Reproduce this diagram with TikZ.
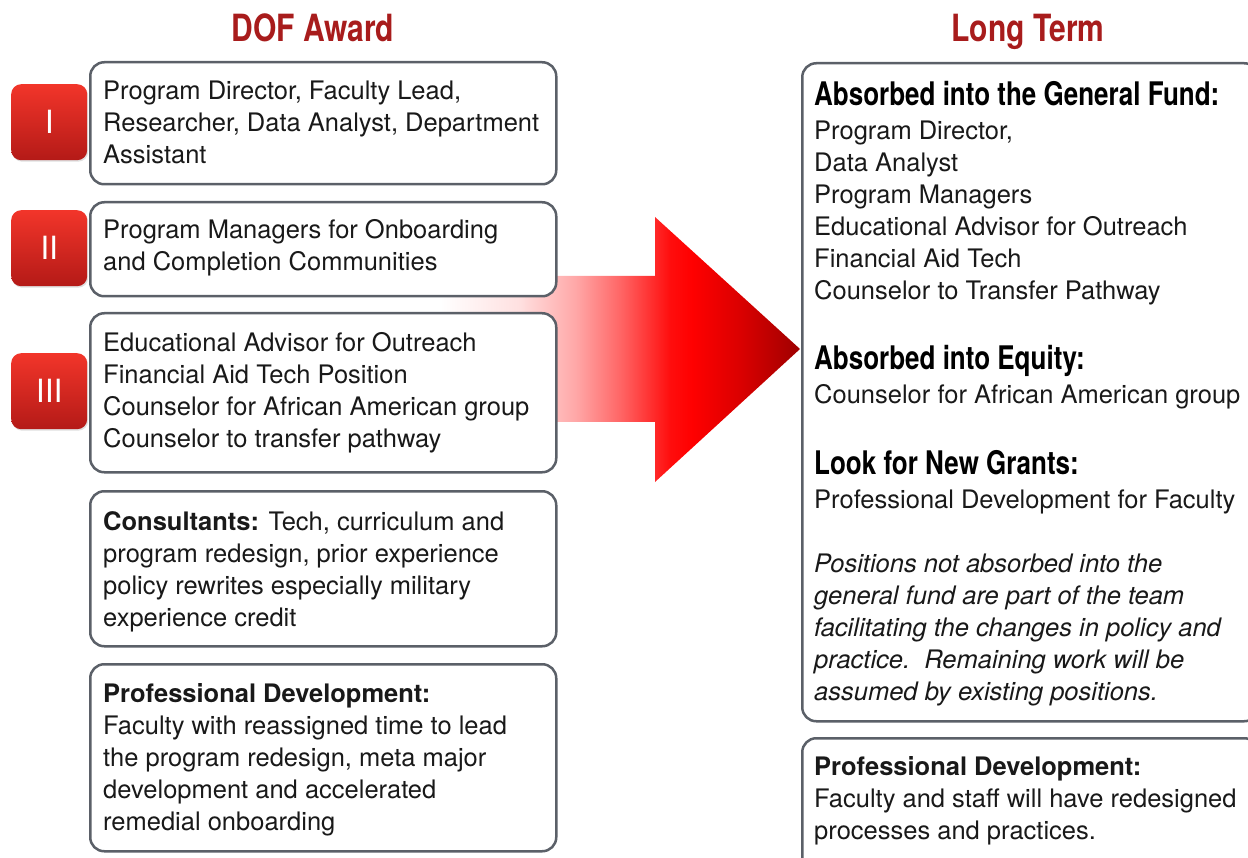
\documentclass[tikz,border=0pt]{standalone}
\usepackage{fontspec}
\setmainfont{TeX Gyre Heros}
\newfontfamily\cond{TeX Gyre Heros}[FakeStretch=0.8]
\usetikzlibrary{shadows}
\definecolor{headred}{HTML}{A81C1C}
\definecolor{boxgray}{HTML}{5B6068}
\definecolor{badgetop}{HTML}{F2352A}
\definecolor{badgebot}{HTML}{B41A17}
\pgfdeclarehorizontalshading{arrowshade}{100bp}{color(0bp)=(white); color(25bp)=(white); color(36bp)=(red!12!white); color(44bp)=(red!35!white); color(50bp)=(red!60!white); color(57bp)=(red!95!white); color(60bp)=(red); color(67bp)=(red!85!black); color(75bp)=(red!62!black); color(100bp)=(red!62!black)}
\tikzset{
  box/.style={draw=boxgray, line width=2.5pt, rounded corners=14pt, fill=white, anchor=north west, inner sep=0pt},
  badge/.style={rounded corners=10pt, top color=badgetop, bottom color=badgebot, anchor=north west, minimum width=76pt, minimum height=76pt, inner sep=0pt, text=white, font=\fontsize{32}{32}\selectfont, drop shadow={shadow xshift=1pt, shadow yshift=-1.5pt, opacity=0.25}},
  txt/.style={anchor=base west, align=left, inner sep=0pt, font=\fontsize{25.5}{32}\selectfont, text=black!90},
  head/.style={anchor=base, inner sep=0pt, text=headred, font=\cond\bfseries\fontsize{37.5}{40}\selectfont},
  sub/.style={anchor=base west, inner sep=0pt, font=\cond\bfseries\fontsize{32.5}{34}\selectfont, text=black}
}
\begin{document}
\begin{tikzpicture}[x=1pt,y=-1pt]
\useasboundingbox (0,0) rectangle (1248,858);
% big arrow
\path[shading=arrowshade] (440,276) -- (655,276) -- (655,217) -- (800,349) -- (655,482) -- (655,422) -- (440,422) -- cycle;
% headings
\node[head] (h1) at (313,42) {DOF Award};
\node[head] (h2) at (1028,42) {Long Term};
% left boxes
\node[box, minimum width=466pt, minimum height=122pt] (b1) at (89,61) {};
\node[box, minimum width=466pt, minimum height=94pt] (b2) at (89,201) {};
\node[box, minimum width=466pt, minimum height=159pt] (b3) at (89,312) {};
\node[box, minimum width=466pt, minimum height=155pt] (b4) at (89,490) {};
\node[box, minimum width=466pt, minimum height=187pt] (b5) at (89,663) {};
% right boxes
\node[box, minimum width=456pt, minimum height=658pt] (r1) at (801,62) {};
\node[box, minimum width=456pt, minimum height=140pt] (r2) at (801,737) {};
% badges
\node[badge] (g1) at (11,84) {I};
\node[badge] (g2) at (11,210) {II};
\node[badge] (g3) at (11,353) {III};
% left texts (anchor = baseline of the last line)
\node[txt] (t1) at (103,164) {Program Director, Faculty Lead,\\Researcher, Data Analyst, Department\\Assistant};
\node[txt] (t2) at (103,271) {Program Managers for Onboarding\\and Completion Communities};
\node[txt] (t3) at (103,447) {Educational Advisor for Outreach\\Financial Aid Tech Position\\Counselor for African American group\\Counselor to transfer pathway};
\node[txt] (t4) at (103,626) {\textbf{Consultants:} Tech, curriculum and\\program redesign, prior experience\\policy rewrites especially military\\experience credit};
\node[txt] (t5) at (103,830) {\textbf{Professional Development:}\\Faculty with reassigned time to lead\\the program redesign, meta major\\development and accelerated\\remedial onboarding};
% right texts
\node[sub] (s1) at (814,106) {Absorbed into the General Fund:};
\node[txt] (u1) at (814,300) {Program Director,\\Data Analyst\\Program Managers\\Educational Advisor for Outreach\\Financial Aid Tech\\Counselor to Transfer Pathway};
\node[sub] (s2) at (814,370) {Absorbed into Equity:};
\node[txt] (u2) at (814,404) {Counselor for African American group};
\node[sub] (s3) at (814,475) {Look for New Grants:};
\node[txt] (u3) at (814,508) {Professional Development for Faculty};
\node[txt, font=\itshape\fontsize{25.5}{32}\selectfont] (u4) at (814,700) {Positions not absorbed into the\\general fund are part of the team\\facilitating the changes in policy and\\practice.\ \ Remaining work will be\\assumed by existing positions.};
\node[txt] (u5) at (814,839) {\textbf{Professional Development:}\\Faculty and staff will have redesigned\\processes and practices.};
\end{tikzpicture}
\end{document}
